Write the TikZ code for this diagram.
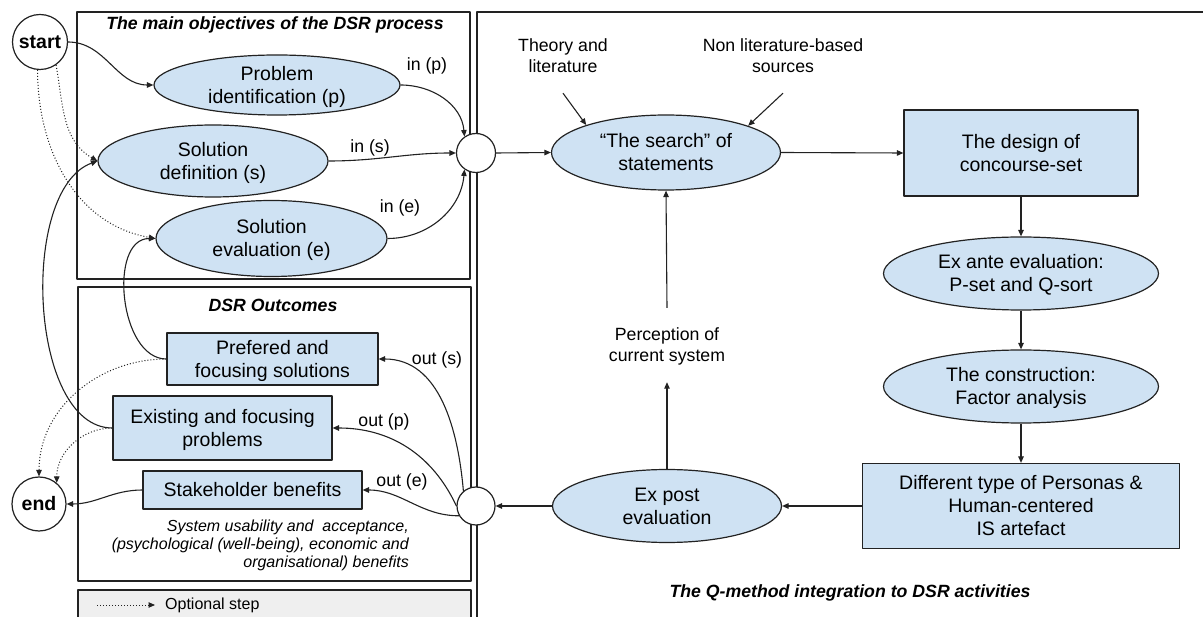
\documentclass[tikz,border=0pt]{standalone}
\usepackage{fontspec}
\setmainfont{Liberation Sans}
\usetikzlibrary{shapes.geometric,arrows.meta}
\definecolor{lb}{HTML}{CFE2F3}
\definecolor{lg}{HTML}{EFEFEF}
\definecolor{ln}{HTML}{222222}
\newcommand{\fA}{\fontsize{19.5pt}{23.3pt}\selectfont}
\newcommand{\fL}{\fontsize{17.7pt}{21pt}\selectfont}
\newcommand{\fN}{\fontsize{16pt}{18pt}\selectfont}
\newcommand{\ml}[1]{\smash{\makebox[0pt]{\raisebox{-0.37em}{\begin{tabular}{@{}c@{}}#1\end{tabular}}}}}
\begin{document}
\begin{tikzpicture}[x=1pt,y=1pt,line join=round,
 ell/.style={ellipse,draw=ln,line width=1.2pt,fill=lb,inner sep=0pt,font=\fA},
 boxn/.style={rectangle,draw=ln,line width=1.2pt,fill=lb,inner sep=0pt,font=\fA},
 circ/.style={circle,draw=ln,line width=1.2pt,fill=white,inner sep=0pt,font=\fA\bfseries},
 conn/.style={draw=ln,line width=1.1pt,-{Triangle[length=6.5pt,width=5.5pt]}},
 opt/.style={conn,line width=1pt,dash pattern=on 1pt off 2pt},
 lab/.style={font=\fL,inner sep=0pt},
 frame/.style={draw=ln,line width=1.3pt},
 ttl/.style={font=\fL\bfseries\itshape,inner sep=0pt}]
\useasboundingbox (0,0) rectangle (1203,-617);
% frames
\draw[frame] (77,-12) rectangle (470,-279);
\draw[frame] (78,-287) rectangle (471,-581);
\draw[frame,fill=lg] (78,-625) -- (78,-590) -- (471,-590) -- (471,-625);
\draw[frame] (477,-625) -- (477,-12) -- (1210,-12);
% titles
\node[ttl] (t1) at (275,-25) {The main objectives of the DSR process};
\node[ttl] (t2) at (273,-305) {DSR Outcomes};
\node[ttl] (t3) at (850,-593) {The Q-method integration to DSR activities};
% left nodes
\node[circ,minimum size=55pt] (start) at (40,-42) {\ml{start}};
\node[circ,minimum size=54pt] (end) at (39,-504) {\ml{end}};
\node[ell,minimum width=246pt,minimum height=60pt] (pi) at (277,-85) {\ml{Problem\\identification (p)}};
\node[ell,minimum width=230pt,minimum height=72pt] (sd) at (213,-161) {\ml{Solution\\definition (s)}};
\node[ell,minimum width=231pt,minimum height=76pt] (se) at (271.5,-238.5) {\ml{Solution\\evaluation (e)}};
\node[circ,minimum size=39pt] (j1) at (476,-153) {};
\node[circ,minimum size=38pt] (j2) at (476,-506) {};
\node[boxn,minimum width=211pt,minimum height=52pt] (pf) at (272.5,-359) {\ml{Prefered and\\focusing solutions}};
\node[boxn,minimum width=219pt,minimum height=64pt] (ex) at (222.5,-428) {\ml{Existing and focusing\\problems}};
\node[boxn,minimum width=219pt,minimum height=38pt] (sb) at (252.5,-490) {\ml{Stakeholder benefits}};
\node[font=\fN\itshape,align=right,anchor=east,inner sep=0pt] (note) at (409,-545) {System usability and\ \ acceptance,\\(psychological (well-being), economic and\\organisational) benefits};
% right nodes
\node[ell,minimum width=229pt,minimum height=75pt] (srch) at (666,-152.5) {\ml{“The search” of\\statements}};
\node[boxn,minimum width=234pt,minimum height=86pt] (dsg) at (1021,-153) {\ml{The design of\\concourse-set}};
\node[ell,minimum width=275pt,minimum height=73pt] (ea) at (1021,-273.5) {\ml{Ex ante evaluation:\\P-set and Q-sort}};
\node[ell,minimum width=275pt,minimum height=73pt] (con) at (1021,-386.5) {\ml{The construction:\\Factor analysis}};
\node[boxn,minimum width=317pt,minimum height=85pt] (dt) at (1021,-506) {\ml{Different type of Personas \&\\Human-centered\\IS artefact}};
\node[ell,minimum width=229pt,minimum height=73pt] (ep) at (667,-506) {\ml{Ex post\\evaluation}};
\node[lab,minimum height=74pt] (per) at (667,-345) {\ml{Perception of\\current system}};
\node[lab,minimum height=74pt] (th) at (563,-56) {\ml{Theory and\\literature}};
\node[lab,minimum height=74pt] (nl) at (783,-56) {\ml{Non literature-based\\sources}};
% edge labels
\node[lab] (lp) at (427,-66) {in (p)};
\node[lab] (ls) at (370,-148) {in (s)};
\node[lab] (le) at (400,-208) {in (e)};
\node[lab] (os) at (437,-360) {out (s)};
\node[lab] (op) at (384,-422) {out (p)};
\node[lab] (oe) at (402,-482) {out (e)};
% connectors left
\draw[conn] (start.east) to[out=0,in=180] (pi.west);
\draw[opt] (start.-55) to[out=-80,in=150] (sd.west);
\draw[opt] (start.-95) to[out=-90,in=170] (se.west);
\draw[conn] (pi.east) to[out=0,in=95] (j1.125);
\draw[conn] (sd.east) to[out=0,in=180] (j1.west);
\draw[conn] (se.east) to[out=0,in=-95] (j1.235);
\draw[conn] (j2.130) to[out=95,in=0] (pf.east);
\draw[conn] (j2.west) to[out=115,in=0] (ex.east);
\draw[conn] (j2.210) to[out=180,in=0] (sb.east);
\draw[conn] (sb.west) to[out=180,in=0] (end.east);
\draw[conn] (pf.west) to[out=180,in=180] (se.west);
\draw[conn] (ex.west) to[out=180,in=200,looseness=0.8] (sd.west);
\draw[opt] (pf.west) to[out=180,in=90] (end.north);
\draw[opt] (ex.west) to[out=180,in=90] (end.50);
% connectors right
\draw[conn] (j1.east) -- (srch.west);
\draw[conn] (srch.east) -- (dsg.west);
\draw[conn] (dsg.south) -- (ea.north);
\draw[conn] (ea.south) -- (con.north);
\draw[conn] (con.south) -- (dt.north);
\draw[conn] (dt.west) -- (ep.east);
\draw[conn] (ep.west) -- (j2.east);
\draw[conn] (ep.north) -- (per.south);
\draw[conn] (per.north) -- (srch.south);
\draw[conn] (th.south) -- (srch.161);
\draw[conn] (nl.south) -- (srch.18);
% legend
\coordinate (la) at (97,-605);
\coordinate (lz) at (155,-605);
\draw[opt] (la) -- (lz);
\node[font=\fN,anchor=west,inner sep=0pt] (lt) at (165,-605) {Optional step};
\end{tikzpicture}
\end{document}
